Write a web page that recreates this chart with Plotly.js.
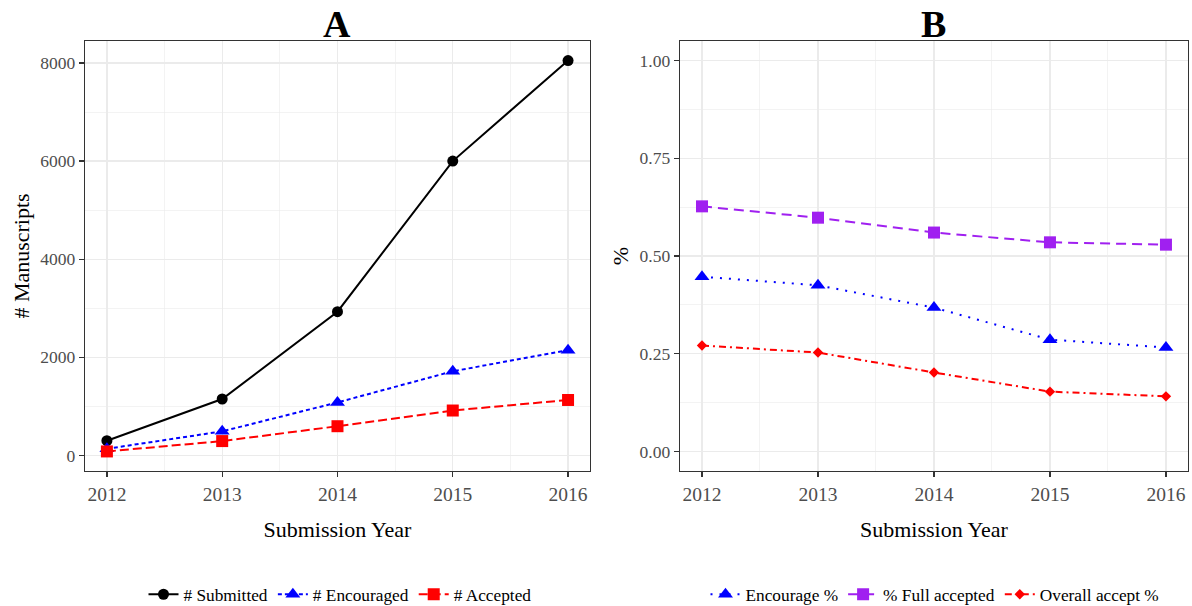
<!DOCTYPE html>
<html>
<head>
<meta charset="utf-8">
<script src="https://cdn.plot.ly/plotly-3.0.1.min.js"></script>
<style>html,body{margin:0;padding:0;background:#fff;}#chart{width:1192px;height:606px;}</style>
</head>
<body>
<div id="chart"></div>
<script>
// ---- data ----
const years = [2012, 2013, 2014, 2015, 2016];
const yearLabels = ["2012", "2013", "2014", "2015", "2016"];

const submitted  = [300, 1150, 2930, 6000, 8050];
const encouraged = [135, 490, 1080, 1715, 2145];
const accepted   = [81, 292, 595, 915, 1130];

const encouragePct   = [0.447, 0.425, 0.368, 0.286, 0.266];
const fullAcceptPct  = [0.627, 0.598, 0.560, 0.535, 0.529];
const overallPct     = [0.271, 0.253, 0.202, 0.153, 0.141];

const pctTicks = [0, 0.25, 0.5, 0.75, 1];
const pctTickLabels = ["0.00", "0.25", "0.50", "0.75", "1.00"];
const countTicks = [0, 2000, 4000, 6000, 8000];
const countTickLabels = ["0", "2000", "4000", "6000", "8000"];

const FONT = "Liberation Serif, Times New Roman, serif";

const traces = [
  {x: years, y: submitted, name: "# Submitted", type: "scatter", mode: "lines+markers",
   xaxis: "x", yaxis: "y", legend: "legend",
   line: {color: "#000000", width: 2}, marker: {symbol: "circle", size: 11, color: "#000000"}},
  {x: years, y: encouraged, name: "# Encouraged", type: "scatter", mode: "lines+markers",
   xaxis: "x", yaxis: "y", legend: "legend",
   line: {color: "#0000FF", width: 2, dash: "4px,3px"}, marker: {symbol: "triangle-up", size: 13, color: "#0000FF"}},
  {x: years, y: accepted, name: "# Accepted", type: "scatter", mode: "lines+markers",
   xaxis: "x", yaxis: "y", legend: "legend",
   line: {color: "#FF0000", width: 2, dash: "9px,4px"}, marker: {symbol: "square", size: 12, color: "#FF0000"}},

  {x: years, y: encouragePct, name: "Encourage %", type: "scatter", mode: "lines+markers",
   xaxis: "x2", yaxis: "y2", legend: "legend2",
   line: {color: "#0000FF", width: 2, dash: "2px,7px"}, marker: {symbol: "triangle-up", size: 13, color: "#0000FF"}},
  {x: years, y: fullAcceptPct, name: "% Full accepted", type: "scatter", mode: "lines+markers",
   xaxis: "x2", yaxis: "y2", legend: "legend2",
   line: {color: "#A020F0", width: 2, dash: "10px,6px"}, marker: {symbol: "square", size: 12, color: "#A020F0"}},
  {x: years, y: overallPct, name: "Overall accept %", type: "scatter", mode: "lines+markers",
   xaxis: "x2", yaxis: "y2", legend: "legend2",
   line: {color: "#FF0000", width: 2, dash: "7px,4px,2px,4px"}, marker: {symbol: "diamond", size: 8, color: "#FF0000"}}
];

function xAxis(domain, anchor) {
  return {
    domain: domain, anchor: anchor, range: [2011.81, 2016.19],
    tickmode: "array", tickvals: years, ticktext: yearLabels,
    showline: true, mirror: true, linecolor: "#333333", linewidth: 1.3,
    ticks: "outside", ticklen: 5, tickwidth: 1.3, tickcolor: "#333333",
    tickfont: {family: FONT, size: 19.5, color: "#4D4D4D"},
    showgrid: true, gridcolor: "#EBEBEB", gridwidth: 1.2, zeroline: false,
    minor: {tickmode: "array", tickvals: [2012.5, 2013.5, 2014.5, 2015.5],
            showgrid: true, gridcolor: "#EBEBEB", gridwidth: 0.6, ticks: ""},
    title: {text: "Submission Year", font: {family: FONT, size: 22, color: "#000000"}, standoff: 18},
    automargin: false
  };
}
function yAxis(anchor, range, tv, tt, minorVals, title) {
  return {
    anchor: anchor, range: range, domain: [0, 1],
    tickmode: "array", tickvals: tv, ticktext: tt,
    showline: true, mirror: true, linecolor: "#333333", linewidth: 1.3,
    ticks: "outside", ticklen: 5, tickwidth: 1.3, tickcolor: "#333333",
    tickfont: {family: FONT, size: 17.5, color: "#4D4D4D"},
    showgrid: true, gridcolor: "#EBEBEB", gridwidth: 1.2, zeroline: false,
    minor: {tickmode: "array", tickvals: minorVals, showgrid: true, gridcolor: "#EBEBEB", gridwidth: 0.6, ticks: ""},
    title: {text: title, font: {family: FONT, size: 22, color: "#000000"}, standoff: 4},
    automargin: false
  };
}

const layout = {
  width: 1192, height: 606,
  margin: {l: 85, r: 4, t: 41, b: 135},
  paper_bgcolor: "#FFFFFF", plot_bgcolor: "#FFFFFF",
  font: {family: FONT, color: "#000000"},
  xaxis: xAxis([0, 0.4578], "y"),
  yaxis: yAxis("x", [-318, 8448], countTicks, countTickLabels, [1000, 3000, 5000, 7000], "# Manuscripts"),
  xaxis2: xAxis([0.5394, 1], "y2"),
  yaxis2: yAxis("x2", [-0.05, 1.05], pctTicks, pctTickLabels, [0.125, 0.375, 0.625, 0.875], "%"),
  showlegend: true,
  legend: {orientation: "h", xref: "container", yref: "container", x: 340/1192, y: 11.5/606,
           xanchor: "center", yanchor: "middle",
           font: {family: FONT, size: 17.3, color: "#000000"}, bgcolor: "rgba(0,0,0,0)", itemwidth: 30, tracegroupgap: 0},
  legend2: {orientation: "h", xref: "container", yref: "container", x: 935/1192, y: 11.5/606,
            xanchor: "center", yanchor: "middle",
            font: {family: FONT, size: 17.3, color: "#000000"}, bgcolor: "rgba(0,0,0,0)", itemwidth: 30, tracegroupgap: 0},
  annotations: [
    {text: "<b>A</b>", xref: "paper", yref: "paper", x: 0.2289, y: 1, xanchor: "center", yanchor: "bottom",
     yshift: -6, showarrow: false, font: {family: FONT, size: 38, color: "#000000"}},
    {text: "<b>B</b>", xref: "paper", yref: "paper", x: 0.7697, y: 1, xanchor: "center", yanchor: "bottom",
     yshift: -6, showarrow: false, font: {family: FONT, size: 38, color: "#000000"}}
  ]
};

Plotly.newPlot("chart", traces, layout, {displayModeBar: false, staticPlot: true});
</script>
</body>
</html>
